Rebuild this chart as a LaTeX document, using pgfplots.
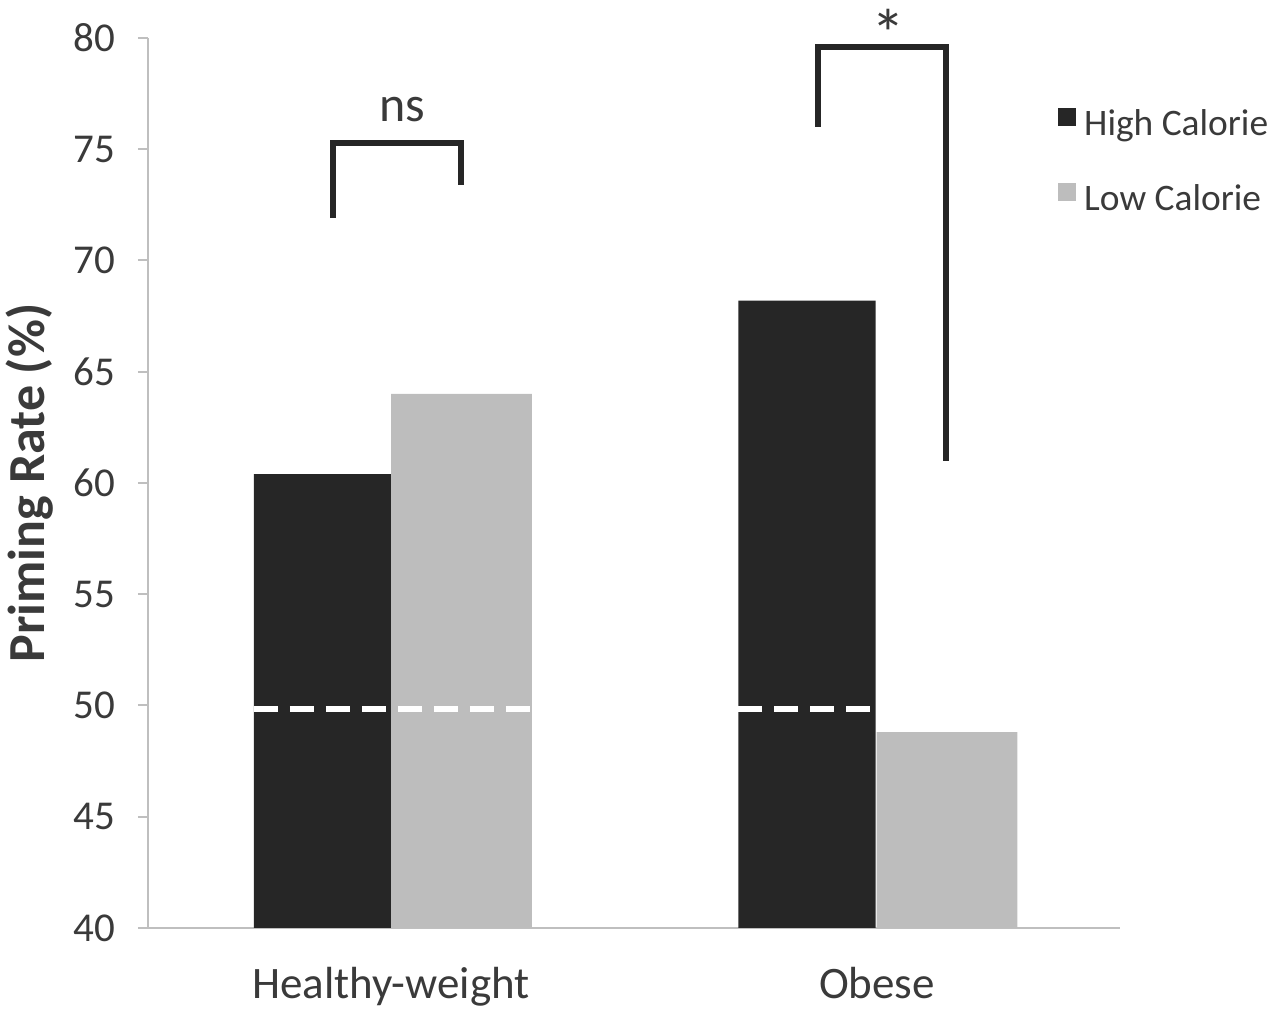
\documentclass[border=0pt]{standalone}
\usepackage{pgfplots}
\pgfplotsset{compat=1.18}
\usepackage{fontspec}
\setmainfont{Carlito}
\definecolor{hi}{HTML}{262626}
\definecolor{lo}{HTML}{BDBDBD}
\definecolor{ax}{HTML}{BFBFBF}
\definecolor{tx}{HTML}{3A3A3A}
\begin{document}
\begin{tikzpicture}[x=1pt,y=1pt]
\path[use as bounding box] (0,0) rectangle (640,510);
\begin{axis}[
  at={(74pt,46pt)}, anchor=south west,
  scale only axis, width=486pt, height=445pt,
  xmin=-0.5, xmax=1.5, ymin=40, ymax=80,
  ytick={40,45,...,80},
  xtick={0,1}, xticklabels={Healthy-weight,Obese},
  minor xtick={-0.5,0.5,1.5},
  axis x line*=bottom, axis y line*=left,
  axis line style={ax, line width=1.2pt, -},
  tick align=outside,
  major tick length=5pt, minor tick length=7pt,
  xtick style={draw=none}, minor x tick style={ax, line width=1pt},
  ytick style={ax, line width=1pt},
  tick label style={font=\fontsize{20.5}{24}\selectfont, text=tx},
  yticklabel style={xshift=-8pt},
  xticklabel style={font=\fontsize{22.5}{26}\selectfont, yshift=-11pt},
  /pgf/number format/assume math mode=true,
  ylabel={\textbf{Priming Rate (\%)}},
  ylabel style={font=\fontsize{26}{30}\selectfont, text=tx, yshift=3pt},
  clip=false,
  legend style={draw=none, fill=none, at={(0.936,0.925)}, anchor=north west,
    font=\fontsize{18.7}{22}\selectfont, text=tx, row sep=19pt,
    legend cell align=left, inner sep=0pt,
    nodes={inner xsep=4pt}},
  legend image code/.code={\fill[#1] (0pt,-1pt) rectangle (9pt,8pt);},
]
\addplot[ybar, bar width=0.282, bar shift=0, fill=hi, draw=none]
  coordinates {(-0.141,60.4) (0.856,68.2)};
\addlegendentry{High Calorie}
\addplot[ybar, bar width=0.29, bar shift=0, fill=lo, draw=none]
  coordinates {(0.145,64.0) (1.144,48.8)};
\addlegendentry{Low Calorie}
\addplot[white, line width=3pt, dash pattern=on 12pt off 6pt, forget plot]
  coordinates {(-0.282,49.85) (0.29,49.85)};
\addplot[white, line width=3pt, dash pattern=on 12pt off 6pt, forget plot]
  coordinates {(0.714,49.85) (1.0,49.85)};
\addplot[hi, line width=3pt, forget plot]
  coordinates {(-0.119,71.9) (-0.119,75.3) (0.144,75.3) (0.144,73.4)};
\addplot[hi, line width=3pt, forget plot]
  coordinates {(0.879,76.0) (0.879,79.6) (1.142,79.6) (1.142,61.0)};
\node[font=\fontsize{25}{28}\selectfont, text=tx] at (axis cs:0.023,76.8) {ns};
\node[font=\fontsize{34}{34}\selectfont, text=tx] at (axis cs:1.023,80.2) {*};
\end{axis}
\end{tikzpicture}
\end{document}
